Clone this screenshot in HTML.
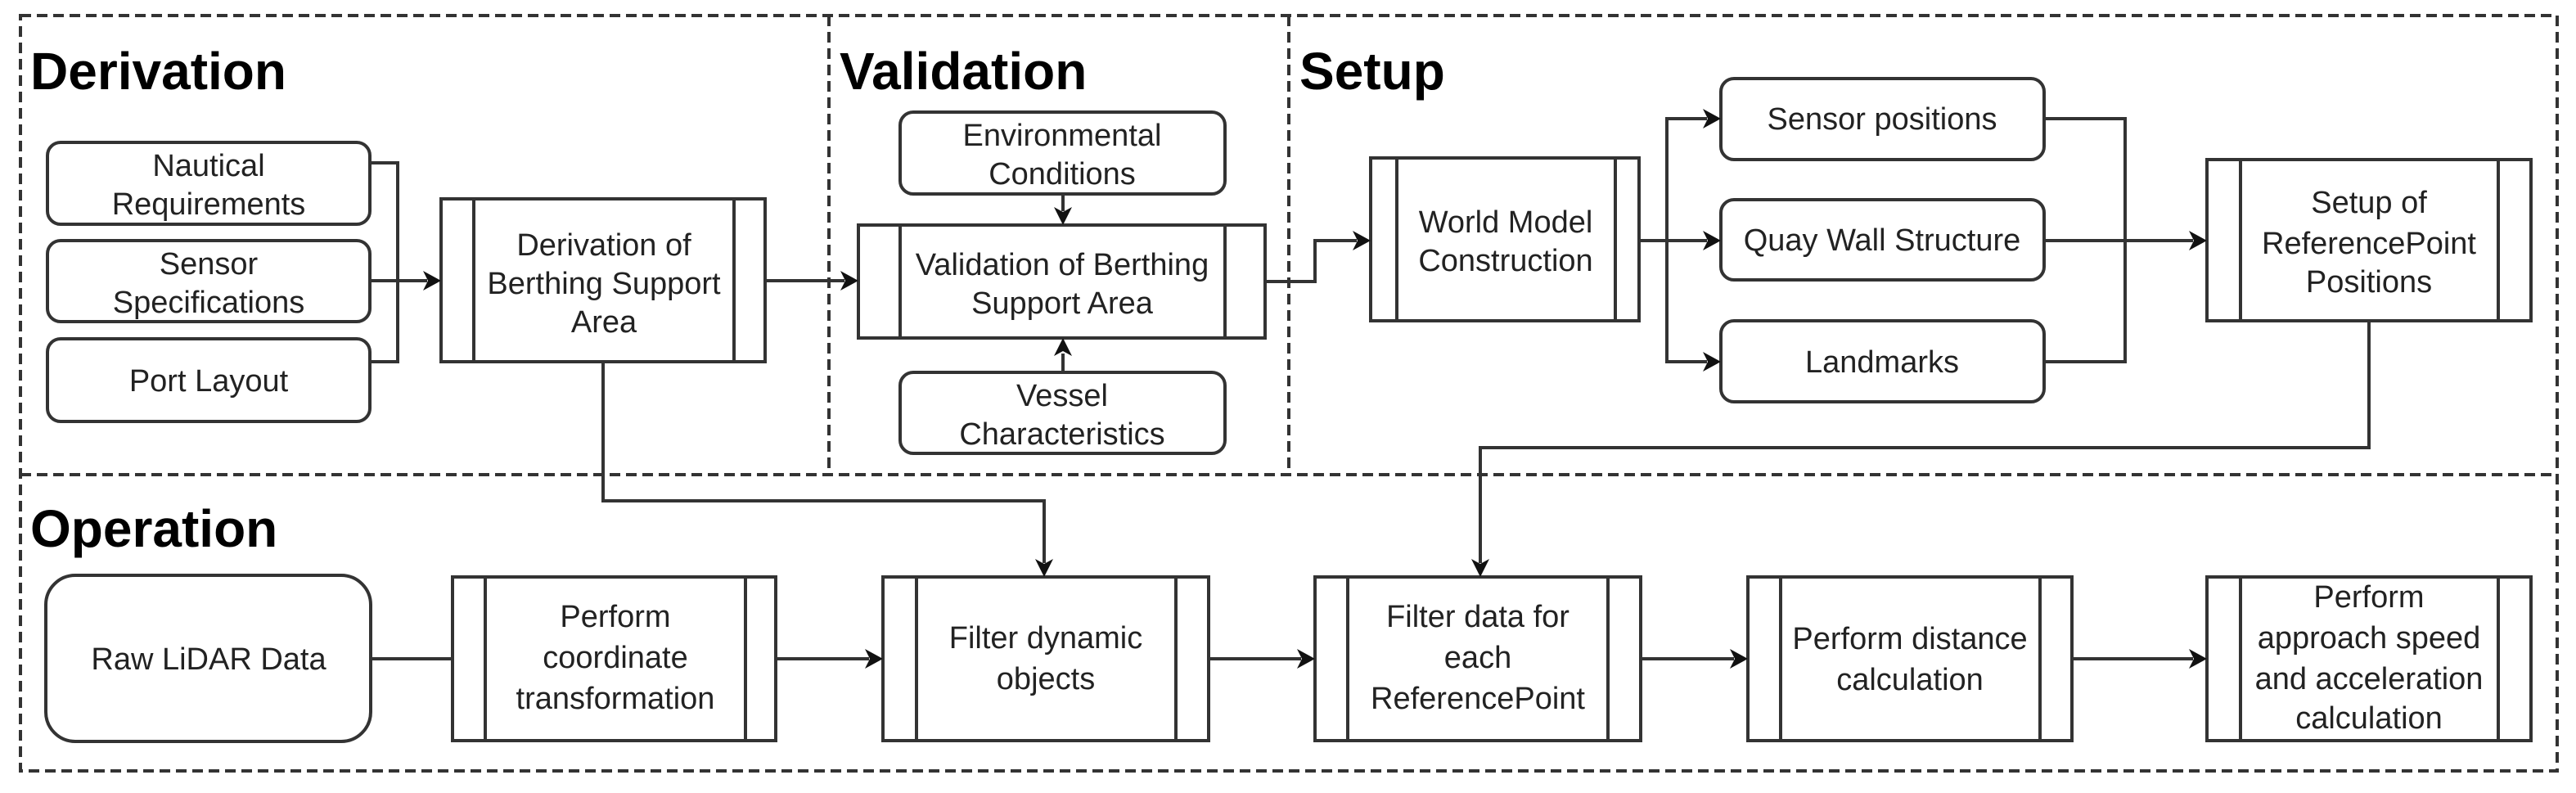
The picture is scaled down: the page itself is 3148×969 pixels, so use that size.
<!DOCTYPE html>
<html><head><meta charset="utf-8"><style>
html,body{margin:0;padding:0;background:#fff;}
svg{display:block;}
text{font-family:"Liberation Sans",Arial,sans-serif;fill:#222;}
.t{font-size:38px;text-anchor:middle;}
.h{font-size:64px;font-weight:bold;fill:#000;}
</style></head><body>
<svg width="3148" height="969" viewBox="0 0 3148 969" xmlns="http://www.w3.org/2000/svg">
<defs>
<marker id="a" viewBox="0 0 10 10" refX="9" refY="5" markerWidth="7" markerHeight="7" orient="auto" markerUnits="userSpaceOnUse" >
</marker>
</defs>
<g fill="none" stroke="#333" stroke-width="4" stroke-dasharray="13 7">
<rect x="25" y="19" width="3100" height="923"/>
<line x1="25" y1="580" x2="3125" y2="580"/>
<line x1="1013" y1="19" x2="1013" y2="580"/>
<line x1="1575" y1="19" x2="1575" y2="580"/>
</g>
<text class="h" x="37" y="109">Derivation</text>
<text class="h" x="1026" y="109">Validation</text>
<text class="h" x="1588" y="109">Setup</text>
<text class="h" x="37" y="668">Operation</text>

<g fill="#fff" stroke="#333" stroke-width="4">
<!-- rounded -->
<rect x="58" y="174" width="394" height="100" rx="16"/>
<rect x="58" y="294" width="394" height="99" rx="16"/>
<rect x="58" y="414" width="394" height="101" rx="16"/>
<rect x="1100" y="137" width="397" height="100" rx="16"/>
<rect x="1100" y="455" width="397" height="99" rx="16"/>
<rect x="2103" y="96" width="395" height="99" rx="16"/>
<rect x="2103" y="244" width="395" height="98" rx="16"/>
<rect x="2103" y="392" width="395" height="99" rx="16"/>
<rect x="56" y="703" width="397" height="203" rx="36"/>
<!-- process boxes -->
<rect x="539" y="243" width="396" height="199"/>
<rect x="1049" y="275" width="497" height="138"/>
<rect x="1675" y="193" width="328" height="199"/>
<rect x="2697" y="195" width="396" height="197"/>
<rect x="553" y="705" width="395" height="200"/>
<rect x="1079" y="705" width="398" height="200"/>
<rect x="1607" y="705" width="398" height="200"/>
<rect x="2136" y="705" width="396" height="200"/>
<rect x="2697" y="705" width="396" height="200"/>
</g>
<g fill="none" stroke="#333" stroke-width="4">
<line x1="579" y1="243" x2="579" y2="442"/><line x1="897" y1="243" x2="897" y2="442"/>
<line x1="1100" y1="275" x2="1100" y2="413"/><line x1="1497" y1="275" x2="1497" y2="413"/>
<line x1="1707" y1="193" x2="1707" y2="392"/><line x1="1974" y1="193" x2="1974" y2="392"/>
<line x1="2738" y1="195" x2="2738" y2="392"/><line x1="3053" y1="195" x2="3053" y2="392"/>
<line x1="593" y1="705" x2="593" y2="905"/><line x1="911" y1="705" x2="911" y2="905"/>
<line x1="1120" y1="705" x2="1120" y2="905"/><line x1="1437" y1="705" x2="1437" y2="905"/>
<line x1="1647" y1="705" x2="1647" y2="905"/><line x1="1965" y1="705" x2="1965" y2="905"/>
<line x1="2176" y1="705" x2="2176" y2="905"/><line x1="2493" y1="705" x2="2493" y2="905"/>
<line x1="2738" y1="705" x2="2738" y2="905"/><line x1="3053" y1="705" x2="3053" y2="905"/>
<!-- connectors -->
<polyline points="452,199 486,199 486,442 452,442"/>
<line x1="452" y1="343" x2="522" y2="343"/>
<line x1="935" y1="343" x2="1032" y2="343"/>
<line x1="1299" y1="237" x2="1299" y2="258"/>
<line x1="1299" y1="455" x2="1299" y2="432"/>
<polyline points="1546,344 1607,344 1607,294 1658,294"/>
<polyline points="2003,294 2037,294"/>
<polyline points="2086,145 2037,145 2037,442 2086,442"/>
<line x1="2037" y1="294" x2="2086" y2="294"/>
<polyline points="2498,145 2597,145 2597,442 2498,442"/>
<line x1="2498" y1="294" x2="2680" y2="294"/>
<polyline points="2895,392 2895,547 1809,547 1809,688"/>
<polyline points="737,442 737,612 1276,612 1276,688"/>
<line x1="453" y1="805" x2="553" y2="805"/>
<line x1="948" y1="805" x2="1062" y2="805"/>
<line x1="1477" y1="805" x2="1590" y2="805"/>
<line x1="2005" y1="805" x2="2119" y2="805"/>
<line x1="2532" y1="805" x2="2680" y2="805"/>
</g>
<g fill="#111">
<polygon points="539,343 517,331 523,343 517,355"/>
<polygon points="1049,343 1027,331 1033,343 1027,355"/>
<polygon points="1675,294 1653,282 1659,294 1653,306"/>
<polygon points="2103,145 2081,133 2087,145 2081,157"/>
<polygon points="2103,294 2081,282 2087,294 2081,306"/>
<polygon points="2103,442 2081,430 2087,442 2081,454"/>
<polygon points="2697,294 2675,282 2681,294 2675,306"/>
<polygon points="1079,805 1057,793 1063,805 1057,817"/>
<polygon points="1607,805 1585,793 1591,805 1585,817"/>
<polygon points="2136,805 2114,793 2120,805 2114,817"/>
<polygon points="2697,805 2675,793 2681,805 2675,817"/>
<polygon points="1299,275 1288,253 1299,259 1310,253"/>
<polygon points="1299,413 1288,435 1299,429 1310,435"/>
<polygon points="1276,705 1265,683 1276,689 1287,683"/>
<polygon points="1809,705 1798,683 1809,689 1820,683"/>
</g>
<text class="t" x="255" y="215">Nautical</text>
<text class="t" x="255" y="262">Requirements</text>
<text class="t" x="255" y="335">Sensor</text>
<text class="t" x="255" y="382">Specifications</text>
<text class="t" x="255" y="478">Port Layout</text>
<text class="t" x="738" y="312">Derivation of</text>
<text class="t" x="738" y="359">Berthing Support</text>
<text class="t" x="738" y="406">Area</text>
<text class="t" x="1298" y="178">Environmental</text>
<text class="t" x="1298" y="225">Conditions</text>
<text class="t" x="1298" y="336">Validation of Berthing</text>
<text class="t" x="1298" y="383">Support Area</text>
<text class="t" x="1298" y="496">Vessel</text>
<text class="t" x="1298" y="543">Characteristics</text>
<text class="t" x="1840" y="284">World Model</text>
<text class="t" x="1840" y="331">Construction</text>
<text class="t" x="2300" y="158">Sensor positions</text>
<text class="t" x="2300" y="306">Quay Wall Structure</text>
<text class="t" x="2300" y="455">Landmarks</text>
<text class="t" x="2895" y="260">Setup of</text>
<text class="t" x="2895" y="310">ReferencePoint</text>
<text class="t" x="2895" y="357">Positions</text>
<text class="t" x="255" y="818">Raw LiDAR Data</text>
<text class="t" x="752" y="766">Perform</text>
<text class="t" x="752" y="816">coordinate</text>
<text class="t" x="752" y="866">transformation</text>
<text class="t" x="1278" y="792">Filter dynamic</text>
<text class="t" x="1278" y="842">objects</text>
<text class="t" x="1806" y="766">Filter data for</text>
<text class="t" x="1806" y="816">each</text>
<text class="t" x="1806" y="866">ReferencePoint</text>
<text class="t" x="2334" y="793">Perform distance</text>
<text class="t" x="2334" y="843">calculation</text>
<text class="t" x="2895" y="742">Perform</text>
<text class="t" x="2895" y="792">approach speed</text>
<text class="t" x="2895" y="842">and acceleration</text>
<text class="t" x="2895" y="890">calculation</text>
</svg>
</body></html>
